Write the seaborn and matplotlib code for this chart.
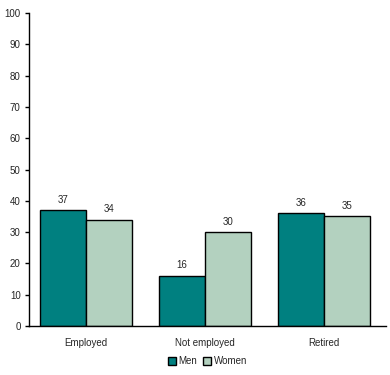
import pandas as pd
import seaborn as sns
import matplotlib.pyplot as plt

# Data
categories = ["Employed", "Not employed", "Retired"]
men = [37, 16, 36]
women = [34, 30, 35]
y_ticks = list(range(0, 101, 10))

df = pd.DataFrame({
    "status": categories * 2,
    "sex": ["Men"] * 3 + ["Women"] * 3,
    "pct": men + women,
})

sns.set_style("white")
plt.rcParams["font.family"] = ["Liberation Sans", "DejaVu Sans"]
plt.rcParams["font.size"] = 7

fig = plt.figure(figsize=(3.9, 3.75), dpi=100)
ax = fig.add_axes([29 / 390, 49 / 375, 357 / 390, 313 / 375])

palette = {"Men": "#008080", "Women": "#b3d1bf"}
sns.barplot(data=df, x="status", y="pct", hue="sex", palette=palette,
            width=0.77, edgecolor="black", linewidth=1, saturation=1,
            ax=ax)

for cont in ax.containers:
    ax.bar_label(cont, padding=4, fontsize=7)

ax.set_ylim(0, 100)
ax.set_xlim(-0.48, 2.52)
ax.set_yticks(y_ticks)
ax.set_xlabel("")
ax.set_ylabel("")
ax.tick_params(axis="y", left=True, direction="out", length=3, width=1,
               color="black", pad=3, labelsize=7)
ax.tick_params(axis="x", bottom=False, length=0, pad=9, labelsize=7)
sns.despine(ax=ax, top=True, right=True)
for s in ["left", "bottom"]:
    ax.spines[s].set_color("black")
    ax.spines[s].set_linewidth(1)

leg = ax.legend(loc="upper center", bbox_to_anchor=(0.5, -0.085), ncol=2,
                frameon=False, fontsize=7, handlelength=0.8, handleheight=0.8,
                handletextpad=0.3, columnspacing=0.6, borderaxespad=0)

fig.savefig("out.png", dpi=100)
